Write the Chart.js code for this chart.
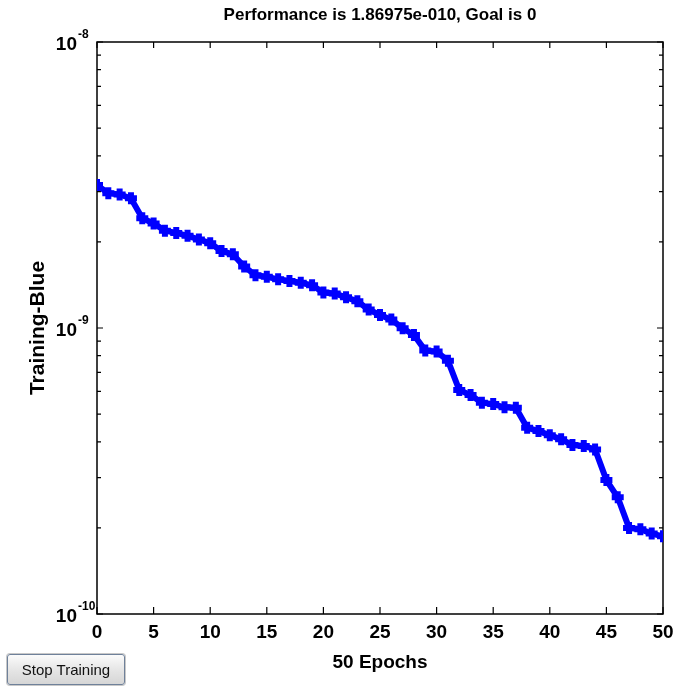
<!DOCTYPE html>
<html>
<head>
<meta charset="utf-8">
<script src="https://cdn.jsdelivr.net/npm/chart.js@4"></script>
<style>
  html, body { margin: 0; padding: 0; background: #fff; }
  #wrap { position: relative; width: 675px; height: 688px; }
  #stopBtn {
    position: absolute; left: 7px; top: 654px; width: 118px; height: 31px;
    font: 15px "Liberation Sans Narrow", "Liberation Sans", Arial, sans-serif;
    color: #111; border: 1px solid #6f819a; border-radius: 3px;
    background: linear-gradient(#fbfbfb, #e4e4e4 55%, #d6d6d6);
    box-shadow: 0 0 0 1px #c8c8c8; padding: 0;
  }
</style>
</head>
<body>
<div id="wrap">
  <canvas id="perfChart" width="675" height="688"></canvas>
  <button id="stopBtn">Stop Training</button>
</div>
<script>
const epochs = [0, 1, 2, 3, 4, 5, 6, 7, 8, 9, 10, 11, 12, 13, 14, 15, 16, 17, 18, 19, 20,
  21, 22, 23, 24, 25, 26, 27, 28, 29, 30, 31, 32, 33, 34, 35, 36, 37, 38, 39, 40,
  41, 42, 43, 44, 45, 46, 47, 48, 49, 50];
const trainPerf = [3.16e-9, 2.96e-9, 2.93e-9, 2.84e-9, 2.42e-9, 2.32e-9, 2.19e-9, 2.15e-9, 2.10e-9, 2.04e-9,
  1.98e-9, 1.86e-9, 1.81e-9, 1.64e-9, 1.53e-9, 1.51e-9, 1.48e-9, 1.46e-9, 1.44e-9, 1.41e-9,
  1.33e-9, 1.32e-9, 1.28e-9, 1.24e-9, 1.16e-9, 1.11e-9, 1.07e-9, 9.98e-10, 9.46e-10, 8.34e-10,
  8.27e-10, 7.69e-10, 6.07e-10, 5.83e-10, 5.48e-10, 5.42e-10, 5.28e-10, 5.26e-10, 4.48e-10, 4.36e-10,
  4.22e-10, 4.08e-10, 3.90e-10, 3.87e-10, 3.76e-10, 2.94e-10, 2.56e-10, 2.00e-10, 1.98e-10, 1.91e-10,
  1.86975e-10];

const xTicks = [0, 5, 10, 15, 20, 25, 30, 35, 40, 45, 50];
const yMajor = [1e-10, 1e-9, 1e-8];
const yExp = ["-10", "-9", "-8"];
const yMinor = [2e-10, 3e-10, 4e-10, 5e-10, 6e-10, 7e-10, 8e-10, 9e-10,
  2e-9, 3e-9, 4e-9, 5e-9, 6e-9, 7e-9, 8e-9, 9e-9];

const narrow = '"Liberation Sans Narrow", "Liberation Sans", Arial, sans-serif';
const sans = '"Liberation Sans", Arial, sans-serif';

// box, inward ticks and 10^n labels like the matlab plot
const matlabAxes = {
  id: "matlabAxes",
  beforeDatasetsDraw(chart) {
    const { ctx, chartArea: a, scales: { x, y } } = chart;
    ctx.save();
    ctx.strokeStyle = "#000";
    ctx.lineWidth = 1.5;
    ctx.strokeRect(a.left, a.top, a.right - a.left, a.bottom - a.top);
    ctx.lineWidth = 1.2;
    ctx.beginPath();
    xTicks.forEach((t) => {
      const px = x.getPixelForValue(t);
      ctx.moveTo(px, a.bottom); ctx.lineTo(px, a.bottom - 7);
      ctx.moveTo(px, a.top); ctx.lineTo(px, a.top + 6);
    });
    yMajor.forEach((t) => {
      const py = y.getPixelForValue(t);
      ctx.moveTo(a.left, py); ctx.lineTo(a.left + 6, py);
      ctx.moveTo(a.right, py); ctx.lineTo(a.right - 6, py);
    });
    yMinor.forEach((t) => {
      const py = y.getPixelForValue(t);
      ctx.moveTo(a.left, py); ctx.lineTo(a.left + 4, py);
      ctx.moveTo(a.right, py); ctx.lineTo(a.right - 4, py);
    });
    ctx.stroke();
    ctx.restore();
  },
  afterDraw(chart) {
    const { ctx, chartArea: a, scales: { y } } = chart;
    ctx.save();
    ctx.fillStyle = "#000";
    ctx.textBaseline = "alphabetic";
    yMajor.forEach((t, i) => {
      const py = y.getPixelForValue(t);
      ctx.font = "bold 19px " + narrow;
      ctx.textAlign = "right";
      ctx.fillText("10", a.left - 20, py + 8);
      ctx.font = "bold 12px " + narrow;
      ctx.textAlign = "left";
      ctx.fillText(yExp[i], a.left - 19, py - 4);
    });
    ctx.restore();
  },
};

new Chart(document.getElementById("perfChart"), {
  type: "line",
  data: {
    datasets: [
      {
        label: "Training",
        data: epochs.map((e, i) => ({ x: e, y: trainPerf[i] })),
        borderColor: "#0000ff",
        backgroundColor: "#0000ff",
        borderWidth: 6,
        pointStyle: "cross",
        pointRadius: 6,
        pointBorderWidth: 6,
        pointHoverRadius: 6,
        tension: 0,
      },
    ],
  },
  options: {
    responsive: false,
    animation: false,
    layout: { padding: { left: 0, right: 0, top: 0, bottom: 0 } },
    plugins: {
      legend: { display: false },
      tooltip: { enabled: false },
      title: {
        display: true,
        fullSize: false,
        text: "Performance is 1.86975e-010, Goal is 0",
        color: "#000",
        font: { family: sans, size: 17, weight: "bold", lineHeight: 1.2 },
        padding: { top: 5, bottom: 16.6 },
      },
    },
    scales: {
      x: {
        type: "linear",
        min: 0,
        max: 50,
        grid: { display: false, drawTicks: false },
        border: { display: false },
        ticks: {
          stepSize: 5,
          color: "#000",
          padding: 0,
          maxRotation: 0,
          font: { family: narrow, size: 19, weight: "bold", lineHeight: 2 },
        },
        title: {
          display: true,
          text: "50 Epochs",
          color: "#000",
          font: { family: narrow, size: 19, weight: "bold", lineHeight: 1 },
          padding: { top: 1.5, bottom: 15.5 },
        },
      },
      y: {
        type: "logarithmic",
        min: 1e-10,
        max: 1e-8,
        grid: { display: false, drawTicks: false },
        border: { display: false },
        ticks: { display: false },
        title: {
          display: true,
          text: "Training-Blue",
          color: "#000",
          font: { family: sans, size: 21, weight: "bold", lineHeight: 1 },
          padding: { top: 27.5, bottom: 48.5 },
        },
      },
    },
  },
  plugins: [matlabAxes],
});
</script>
</body>
</html>
